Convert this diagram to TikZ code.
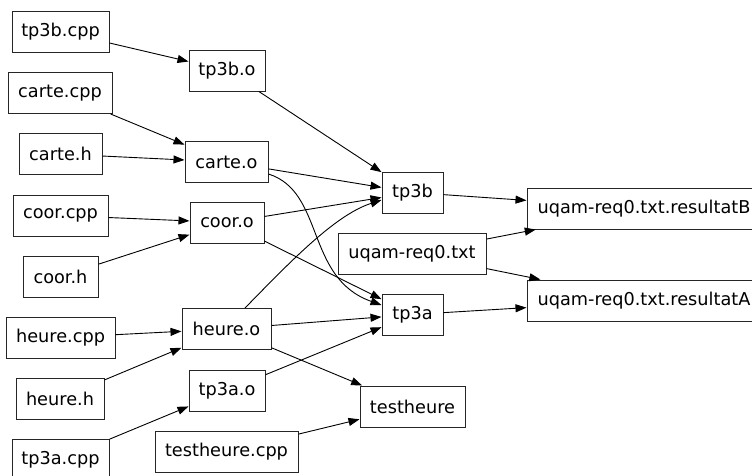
\documentclass[tikz,border=0pt]{standalone}
\usepackage{fontspec}
\setmainfont{DejaVu Sans}
\usetikzlibrary{arrows.meta}
\begin{document}
\begin{tikzpicture}[x=1pt,y=-1pt,
  box/.style={draw=black!85, line width=1pt, inner sep=0pt, minimum height=41pt, font=\fontsize{17.7}{20}\selectfont},
  edge/.style={line width=0.9pt, -{Triangle[length=11pt,width=8pt]}}]
\useasboundingbox (0,0) rectangle (752,475);
\clip (0,0) rectangle (752,475);
\node[box, minimum width=97pt] (tp3bcpp) at (60.5,31.5) {tp3b.cpp};
\node[box, minimum width=76pt] (tp3bo) at (227,70.5) {tp3b.o};
\node[box, minimum width=104pt] (cartecpp) at (60,93) {carte.cpp};
\node[box, minimum width=83pt] (carteh) at (60.5,154) {carte.h};
\node[box, minimum width=83pt] (carteo) at (226.5,162) {carte.o};
\node[box, minimum width=95pt] (coorcpp) at (60.5,215.5) {coor.cpp};
\node[box, minimum width=74pt] (cooro) at (227,222.5) {coor.o};
\node[box, minimum width=75pt] (coorh) at (60.5,276.5) {coor.h};
\node[box, minimum width=109pt] (heurecpp) at (60.5,337.5) {heure.cpp};
\node[box, minimum width=89pt] (heureo) at (226.5,329) {heure.o};
\node[box, minimum width=88pt] (heureh) at (60,398.5) {heure.h};
\node[box, minimum width=76pt] (tp3ao) at (227,390.5) {tp3a.o};
\node[box, minimum width=97pt] (tp3acpp) at (60.5,459.5) {tp3a.cpp};
\node[box, minimum width=143pt] (testheurecpp) at (226.5,451.5) {testheure.cpp};
\node[box, minimum width=105pt] (testheure) at (412.5,406.5) {testheure};
\node[box, minimum width=61pt] (tp3b) at (412.5,192.5) {tp3b};
\node[box, minimum width=148pt] (req) at (412,253.5) {uqam-req0.txt};
\node[box, minimum width=61pt] (tp3a) at (412.5,314.5) {tp3a};
\node[box, minimum width=234pt] (resB) at (644,208.5) {uqam-req0.txt.resultatB};
\node[box, minimum width=234pt] (resA) at (644,300.5) {uqam-req0.txt.resultatA};

\draw[edge] (tp3bcpp) -- (tp3bo);
\draw[edge] (cartecpp) -- (carteo);
\draw[edge] (carteh) -- (carteo);
\draw[edge] (coorcpp) -- (cooro);
\draw[edge] (coorh) -- (cooro);
\draw[edge] (heurecpp) -- (heureo);
\draw[edge] (heureh) -- (heureo);
\draw[edge] (tp3acpp) -- (tp3ao);
\draw[edge] (tp3bo) -- (tp3b);
\draw[edge] (carteo) -- (tp3b);
\draw[edge] (cooro) -- (tp3b);
\draw[edge] (heureo.north) ++(18.5,0) coordinate (hs) (hs) .. controls (290,262) and (335,215) .. (tp3b.south west |- 0,200);
\draw[edge] (carteo.east) ++(0,12) coordinate (cs) (cs) .. controls (325,192) and (305,278) .. (tp3a.west |- 0,305);
\draw[edge] (cooro) -- (tp3a);
\draw[edge] (heureo) -- (tp3a);
\draw[edge] (tp3ao) -- (tp3a);
\draw[edge] (heureo) -- (testheure);
\draw[edge] (testheurecpp) -- (testheure);
\draw[edge] (tp3b) -- (resB);
\draw[edge] (req) -- (resB);
\draw[edge] (req) -- (resA);
\draw[edge] (tp3a) -- (resA);
\end{tikzpicture}
\end{document}
